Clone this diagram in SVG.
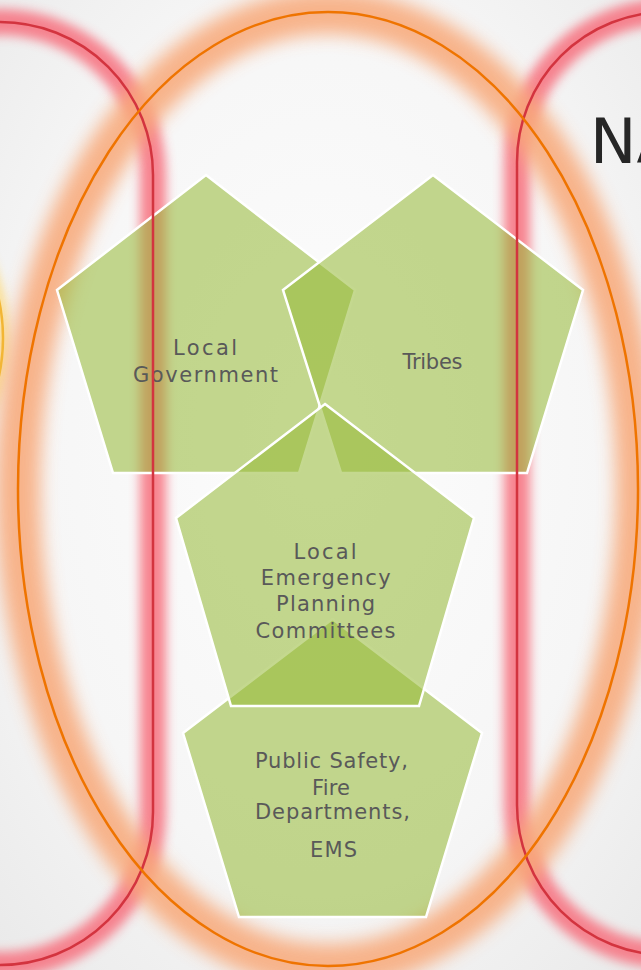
<svg xmlns="http://www.w3.org/2000/svg" width="641" height="970" viewBox="0 0 641 970">
  <defs>
    <radialGradient id="bg" cx="50%" cy="45%" r="75%">
      <stop offset="0" stop-color="#fdfdfd"/>
      <stop offset="0.6" stop-color="#f6f6f6"/>
      <stop offset="1" stop-color="#e9e9e9"/>
    </radialGradient>
    <filter id="blurS" filterUnits="userSpaceOnUse" x="-300" y="-100" width="1300" height="1200">
      <feGaussianBlur stdDeviation="5.5"/>
    </filter>
    <filter id="blurL" filterUnits="userSpaceOnUse" x="-300" y="-100" width="1300" height="1200">
      <feGaussianBlur stdDeviation="9"/>
    </filter>
    <style>
      .glowR { fill: none; stroke: #f7707e; stroke-width: 26; opacity: 0.85; filter: url(#blurS); }
      .glowO { fill: none; stroke: #f8a878; stroke-width: 44; opacity: 0.85; filter: url(#blurL); }
      .glowY { fill: none; stroke: #ffd76a; stroke-width: 10; opacity: 0.9; filter: url(#blurS); }
      .lineR { fill: none; stroke: #d3343f; stroke-width: 2.5; }
      .lineO { fill: none; stroke: #ef7400; stroke-width: 2.5; }
      .lineY { fill: none; stroke: #f2b635; stroke-width: 2.5; }
      .pent { fill: #96b937; fill-opacity: 0.56; stroke: #ffffff; stroke-width: 2.5; stroke-linejoin: miter; }
      .lbl { font-family: "DejaVu Sans", "Liberation Sans", sans-serif; font-size: 21px; fill: #595959; text-anchor: middle; }
      .title { font-family: "DejaVu Sans", "Liberation Sans", sans-serif; font-size: 62px; fill: #262626; }
    </style>
  </defs>

  <rect x="0" y="0" width="641" height="970" fill="url(#bg)"/>

  <!-- glow effects (behind the nodes) -->
  <g id="glows">
    <rect class="glowR" x="-153" y="22" width="306" height="943" rx="153" ry="153"/>
    <rect class="glowR" x="517" y="12" width="306" height="943" rx="150" ry="150"/>
    <circle class="glowY" cx="-178" cy="338" r="181"/>
    <ellipse class="glowO" cx="328" cy="489" rx="310" ry="477"/>
  </g>

  <g id="node-local-government">
    <polygon class="pent" points="206,175 355,290 299,473 113,473 57,290"/>
    <text class="lbl" x="205" y="355" textLength="64">Local</text>
    <text class="lbl" x="205.5" y="381.5" textLength="145">Government</text>
  </g>

  <g id="node-tribes">
    <polygon class="pent" points="433,175 583,290 527,473 341,473 283,290"/>
    <text class="lbl" x="432.5" y="369.3" textLength="60">Tribes</text>
  </g>

  <g id="node-public-safety">
    <polygon class="pent" points="332.5,619 482,733 426,917 239,917 183,733"/>
    <text class="lbl" x="331.5" y="768.3" textLength="153">Public Safety,</text>
    <text class="lbl" x="331" y="795" textLength="38">Fire</text>
    <text class="lbl" x="332.5" y="819" textLength="155">Departments,</text>
    <text class="lbl" x="333.5" y="856.7" textLength="47">EMS</text>
  </g>

  <g id="node-lepc">
    <polygon class="pent" points="325,404 474,518 419,706 231,706 176,518"/>
    <text class="lbl" x="325" y="559" textLength="63">Local</text>
    <text class="lbl" x="325.7" y="585" textLength="130">Emergency</text>
    <text class="lbl" x="325.5" y="611" textLength="99">Planning</text>
    <text class="lbl" x="325.5" y="637.7" textLength="140">Committees</text>
  </g>

  <!-- outline shapes (drawn over the nodes) -->
  <g id="outlines">
    <rect class="lineR" x="-153" y="22" width="306" height="943" rx="153" ry="153"/>
    <rect class="lineR" x="517" y="12" width="306" height="943" rx="150" ry="150"/>
    <circle class="lineY" cx="-178" cy="338" r="181"/>
    <ellipse class="lineO" cx="328" cy="489" rx="310" ry="477"/>
  </g>

  <g id="connectors"></g>

  <text class="title" x="590" y="163">NA</text>
</svg>
